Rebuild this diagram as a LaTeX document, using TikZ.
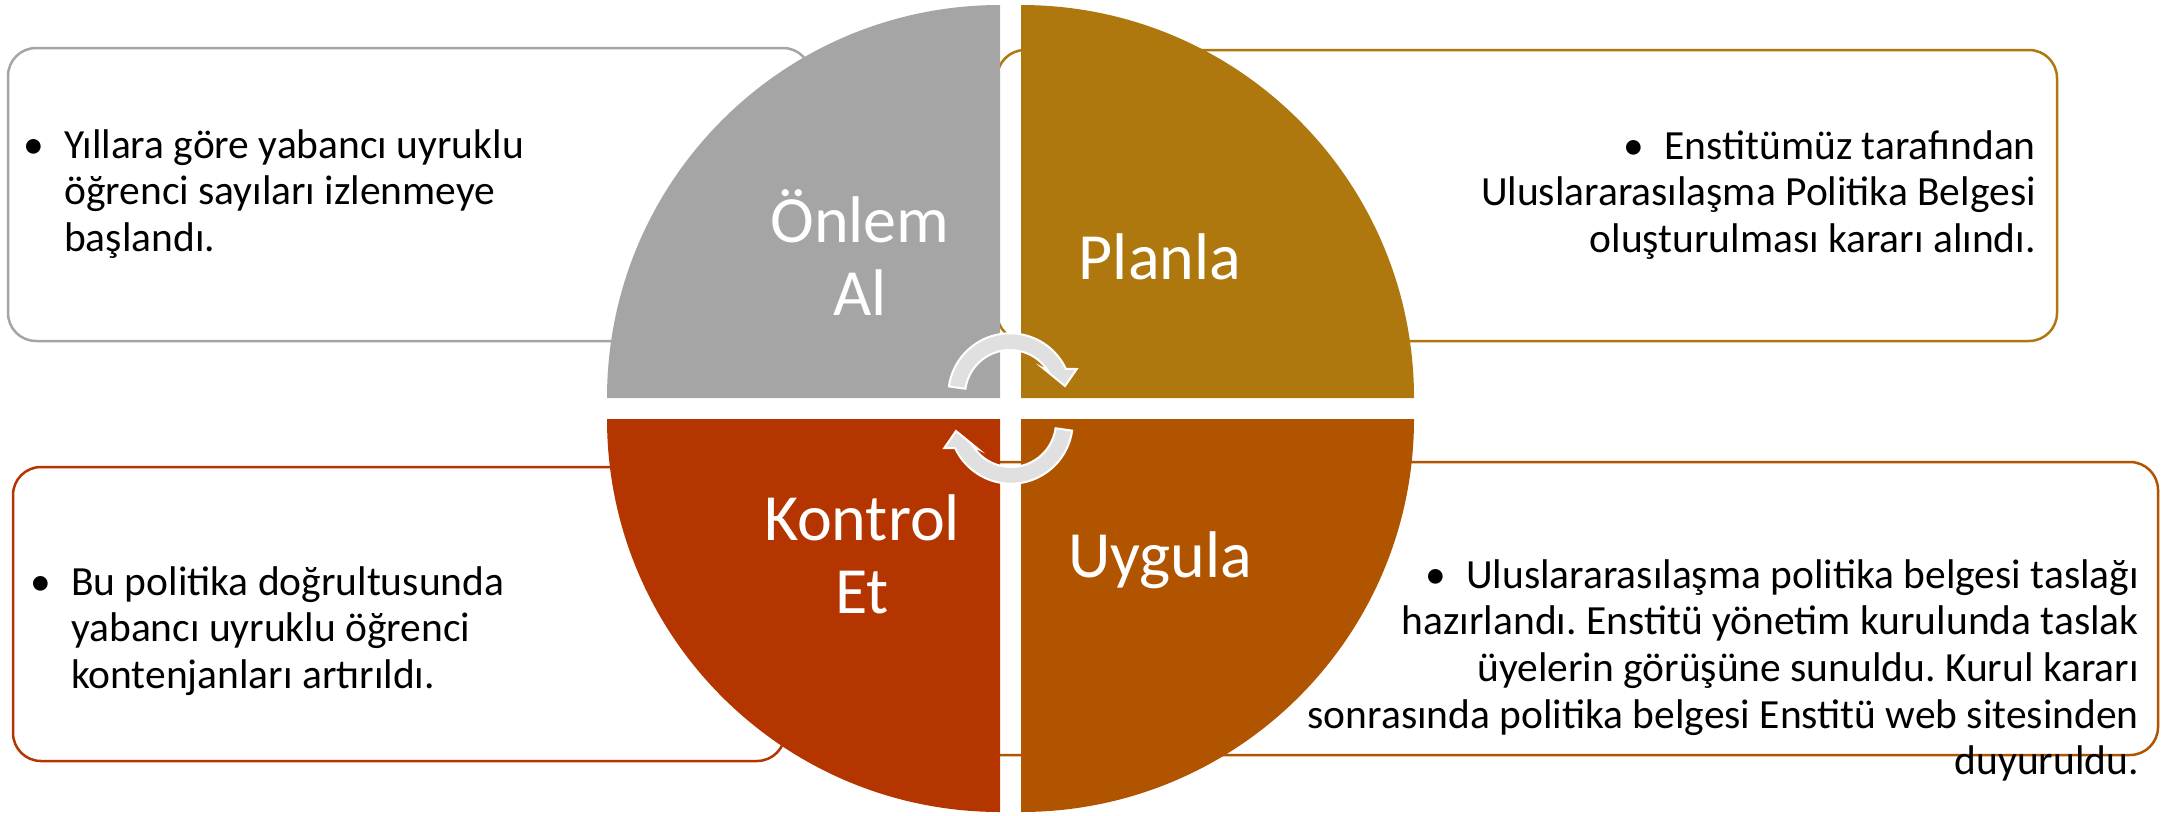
\documentclass[tikz,border=0pt]{standalone}
\usepackage{fontspec}
\setmainfont{Carlito}
\usetikzlibrary{calc}
\definecolor{qgray}{HTML}{A5A5A5}
\definecolor{qgold}{HTML}{AE780E}
\definecolor{qorange}{HTML}{B05400}
\definecolor{qred}{HTML}{B53500}
\definecolor{arrowgray}{HTML}{E0E0E0}
\frenchspacing
\begin{document}
\begin{tikzpicture}[x=1pt,y=-1pt,
  box/.style={line width=2.5pt, fill=white, rounded corners=28pt},
  body/.style={inner sep=0pt, font=\fontsize{41.5}{46.7}\selectfont, text=black},
  lab/.style={inner sep=0pt, text=white, font=\fontsize{66}{73.4}\selectfont},
  cyc/.style={fill=arrowgray, draw=white, line width=2pt, line join=miter}
]
\useasboundingbox (0,0) rectangle (2182,815);
% text boxes
\draw[box, draw=qgray]   (8,48)    rectangle (811,341);
\draw[box, draw=qgold]   (997,50)  rectangle (2057,341);
\draw[box, draw=qred]    (13,467)  rectangle (785,761);
\draw[box, draw=qorange] (960,462) rectangle (2158,755);
% quadrants
\fill[qgray]   (1000,398) -- (607,398) arc[start angle=180, end angle=270, radius=393] -- cycle;
\fill[qgold]   (1021,398) -- (1021,5) arc[start angle=270, end angle=360, radius=393] -- cycle;
\fill[qorange] (1021,419) -- (1414,419) arc[start angle=0, end angle=90, radius=393] -- cycle;
\fill[qred]    (1000,419) -- (1000,812) arc[start angle=90, end angle=180, radius=393] -- cycle;
% quadrant labels
\node[lab, anchor=base] (onlem) at (860,242) {\parbox[t]{400pt}{\centering Önlem\\Al}};
\node[lab, anchor=base] (planla) at (1160,279) {Planla};
\node[lab, anchor=base] (kontrol) at (862,540) {\parbox[t]{400pt}{\centering Kontrol\\Et}};
\node[lab, anchor=base] (uygula) at (1160,577) {Uygula};
% cycle arrows
\draw[cyc] (1010,395) ++(-172:61.7) arc[start angle=-172, end angle=-25, radius=61.7]
  -- (1076.7,369) -- (1065,386) -- (1043.3,368.3)
  -- ($(1010,395)+(-33:45)$) arc[start angle=-33, end angle=-172, radius=45] -- cycle;
\begin{scope}[rotate around={180:(1010.5,408.5)}]
\draw[cyc] (1010,395) ++(-172:61.7) arc[start angle=-172, end angle=-25, radius=61.7]
  -- (1076.7,369) -- (1065,386) -- (1043.3,368.3)
  -- ($(1010,395)+(-33:45)$) arc[start angle=-33, end angle=-172, radius=45] -- cycle;
\end{scope}
% box texts
\node[body, anchor=base west] (tltext) at (64,158) {\parbox[t]{720pt}{\raggedright\leavevmode\llap{•\hspace{20pt}}Yıllara göre yabancı uyruklu\\öğrenci sayıları izlenmeye\\başlandı.}};
\node[body, anchor=base east] (trtext) at (2036,159) {\parbox[t]{900pt}{\raggedleft •\hspace{20pt}Enstitümüz tarafından\\Uluslararasılaşma Politika Belgesi\\oluşturulması kararı alındı.}};
\node[body, anchor=base west] (bltext) at (71,595) {\parbox[t]{700pt}{\raggedright\leavevmode\llap{•\hspace{20pt}}Bu politika doğrultusunda\\yabancı uyruklu öğrenci\\kontenjanları artırıldı.}};
\node[body, anchor=base east] (brtext) at (2139,588) {\parbox[t]{1000pt}{\raggedleft •\hspace{20pt}Uluslararasılaşma politika belgesi taslağı\\hazırlandı. Enstitü yönetim kurulunda taslak\\üyelerin görüşüne sunuldu. Kurul kararı\\sonrasında politika belgesi Enstitü web sitesinden\\duyuruldu.}};
\end{tikzpicture}
\end{document}
